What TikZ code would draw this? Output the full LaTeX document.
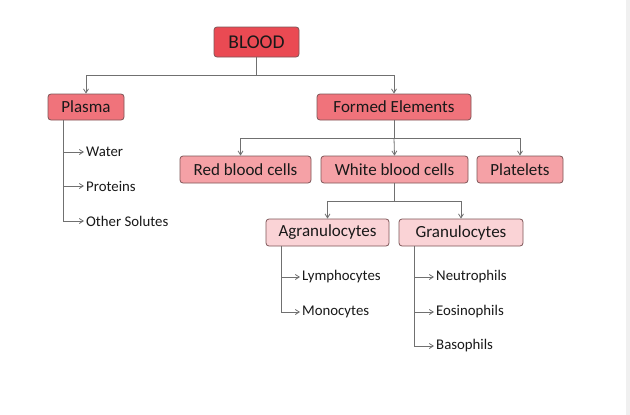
\documentclass[tikz,border=0pt]{standalone}
\usepackage{fontspec}
\setmainfont{Carlito}
\usepackage{xcolor}
\usetikzlibrary{arrows.meta, positioning}

\definecolor{toplevel}{HTML}{EA4A53}
\definecolor{secondlevel}{HTML}{F0737B}
\definecolor{thirdlevel}{HTML}{F5A1A6}
\definecolor{fourthlevel}{HTML}{FAD3D6}
\definecolor{boxline}{HTML}{7E5557}
\definecolor{linkline}{HTML}{707070}

\begin{document}
\begin{tikzpicture}[x=1pt, y=-1pt,
    box/.style={draw=boxline, line width=0.8pt, rounded corners=3pt, inner sep=0pt, minimum height=27pt, text=black!90, font=\fontsize{17}{20}\selectfont},
    leaf/.style={anchor=west, inner sep=2pt, font=\fontsize{14.8}{17}\selectfont, text=black!90},
    link/.style={draw=linkline, line width=0.8pt},
    >={Straight Barb[length=4pt, width=5pt]}]

        \useasboundingbox (0,0) rectangle (630,415);
        \fill[white] (0,0) rectangle (630,415);
        \fill[black!6] (626,0) rectangle (630,415);

        % Levels of boxes
        \node[box, fill=toplevel, minimum width=85pt, minimum height=30pt, font=\fontsize{19.5}{22}\selectfont] (blood) at (256.5,42) {BLOOD};

        \node[box, fill=secondlevel, minimum width=76pt, minimum height=26pt] (plasma) at (86,107) {Plasma};
        \node[box, fill=secondlevel, minimum width=154pt, minimum height=26pt] (formed) at (394,107) {Formed Elements};

        \node[box, fill=thirdlevel, minimum width=131pt] (rbc) at (245.5,169.5) {Red blood cells};
        \node[box, fill=thirdlevel, minimum width=147pt] (wbc) at (394.5,169.5) {White blood cells};
        \node[box, fill=thirdlevel, minimum width=86pt] (platelets) at (520,169.5) {Platelets};

        \node[box, fill=fourthlevel, minimum width=123pt] (agran) at (327.5,232.5) {Agranulocytes};
        \node[box, fill=fourthlevel, minimum width=124pt] (gran) at (461,232.5) {Granulocytes};

        % Leaves
        \node[leaf] (water) at (84,152) {Water};
        \node[leaf] (proteins) at (84,186) {Proteins};
        \node[leaf] (solutes) at (84,221) {Other Solutes};

        \node[leaf] (lympho) at (300,277) {Lymphocytes};
        \node[leaf] (mono) at (300,312) {Monocytes};

        \node[leaf] (neutro) at (434,277) {Neutrophils};
        \node[leaf] (eosino) at (434,312) {Eosinophils};
        \node[leaf] (baso) at (434,346) {Basophils};

        % Branch points
        \coordinate (bloodbus) at (256.5,75);
        \coordinate (formedbus) at (394,138);
        \coordinate (wbcbus) at (394.5,201);
        \coordinate (plasmatrunk) at (63,120);
        \coordinate (agrantrunk) at (281,246);
        \coordinate (grantrunk) at (414,246);

        % Blood to plasma and formed elements
        \draw[link] (blood) -- (bloodbus);
        \draw[link, ->] (bloodbus) -| (plasma.north);
        \draw[link, ->] (bloodbus) -| (formed.north);

        % Formed elements to cells
        \draw[link] (formed) -- (formedbus);
        \draw[link, ->] (formedbus) -| ([xshift=-5pt]rbc.north);
        \draw[link, ->] (formedbus) -- (wbc.north);
        \draw[link, ->] (formedbus) -| (platelets.north);

        % White blood cells to the two groups
        \draw[link] (wbc) -- (wbcbus);
        \draw[link, ->] (wbcbus) -| (agran.north);
        \draw[link, ->] (wbcbus) -| (gran.north);

        % Plasma list
        \draw[link, ->] (plasmatrunk) |- (solutes);
        \draw[link, ->] (plasmatrunk |- water) -- (water);
        \draw[link, ->] (plasmatrunk |- proteins) -- (proteins);

        % Agranulocytes list
        \draw[link, ->] (agrantrunk) |- (mono);
        \draw[link, ->] (agrantrunk |- lympho) -- (lympho);

        % Granulocytes list
        \draw[link, ->] (grantrunk) |- (baso);
        \draw[link, ->] (grantrunk |- neutro) -- (neutro);
        \draw[link, ->] (grantrunk |- eosino) -- (eosino);

    \end{tikzpicture}
\end{document}
